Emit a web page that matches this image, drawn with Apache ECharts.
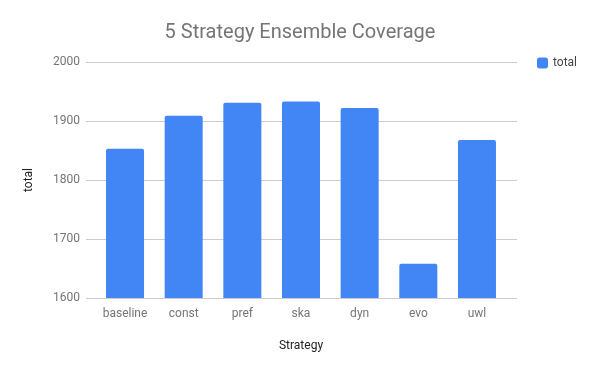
<!DOCTYPE html>
<html><head><meta charset="utf-8">
<script src="https://cdn.jsdelivr.net/npm/echarts@6/dist/echarts.min.js"></script>
<style>html,body{margin:0;padding:0;background:#fff}#c{width:600px;height:371px}</style>
</head><body><div id="c"></div>
<script>
const categories = ['baseline','const','pref','ska','dyn','evo','uwl'];
const totals = [1853, 1909, 1931, 1933, 1922, 1658, 1868];
const yTicks = [1600, 1700, 1800, 1900, 2000];

const chart = echarts.init(document.getElementById('c'));
const font = 'Roboto, sans-serif';
chart.setOption({
  animation: false,
  title: { text: '5 Strategy Ensemble Coverage', left: 'center', top: 18,
    textStyle: { fontFamily: font, fontSize: 20, fontWeight: 'normal', color: '#757575' } },
  legend: { right: 18, top: 52, itemWidth: 11, itemHeight: 11, itemGap: 6,
    textStyle: { fontFamily: font, fontSize: 12, color: '#444' }, data: ['total'] },
  grid: [
    { left: 86, right: 83, top: 62, bottom: 73, containLabel: false },
    { left: 95.7, right: 93.7, top: 62, bottom: 73, containLabel: false }
  ],
  xAxis: [
    { type: 'value', gridIndex: 0, show: false, min: 0, max: 1 },
    { type: 'category', gridIndex: 1, data: categories,
      axisLine: { show: false }, axisTick: { show: false },
      axisLabel: { fontFamily: font, fontSize: 12, color: '#757575', margin: 10 },
      name: 'Strategy', nameLocation: 'middle', nameGap: 42,
      nameTextStyle: { fontFamily: font, fontSize: 12, color: '#222' } }
  ],
  yAxis: [
    { type: 'value', gridIndex: 0, min: yTicks[0], max: yTicks[yTicks.length-1], interval: 100,
      axisLine: { show: false }, axisTick: { show: false },
      axisLabel: { fontFamily: font, fontSize: 12, color: '#757575', margin: 6, formatter: v => String(v) },
      splitLine: { lineStyle: { color: '#cccccc', width: 1 } },
      name: 'total', nameLocation: 'middle', nameGap: 51, nameRotate: 90,
      nameTextStyle: { fontFamily: font, fontSize: 12, color: '#222' } },
    { type: 'value', gridIndex: 1, min: yTicks[0], max: yTicks[yTicks.length-1], interval: 100, show: false,
      splitLine: { show: false } }
  ],
  series: [
    { name: 'total', type: 'bar', xAxisIndex: 1, yAxisIndex: 1, data: totals, barWidth: 38,
      itemStyle: { color: '#4285F4', borderRadius: [2,2,0,0] } }
  ]
});
</script></body></html>
